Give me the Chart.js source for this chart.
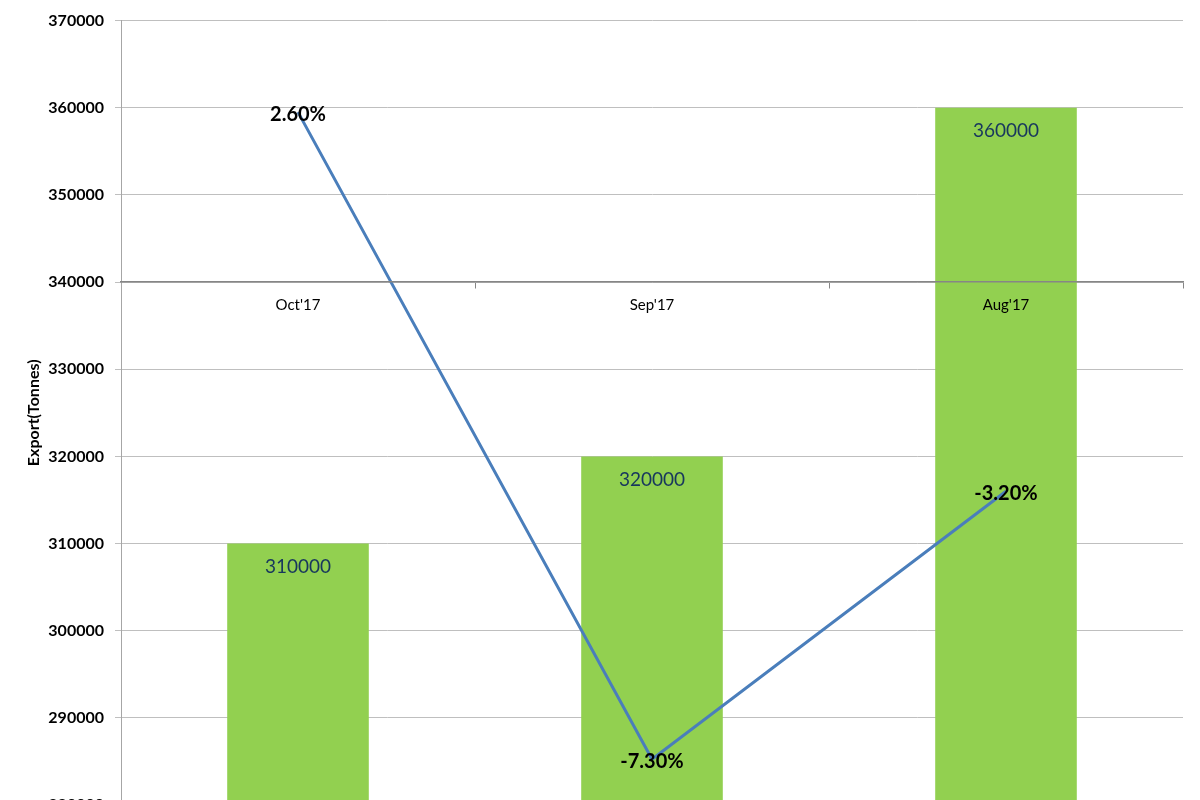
<!DOCTYPE html>
<html>
<head>
<meta charset="utf-8">
<script src="https://cdn.jsdelivr.net/npm/chart.js@4"></script>
<style>
  html, body { margin: 0; padding: 0; overflow: hidden; background: #fff; }
  canvas { display: block; }
</style>
</head>
<body>
<canvas id="exportChart" width="1200" height="830"></canvas>
<script>
const months = ["Oct'17", "Sep'17", "Aug'17"];
const exportData = [310000, 320000, 360000];
const changeData = [2.6, -7.3, -3.2];
const changeLabels = ["2.60%", "-7.30%", "-3.20%"];

// draws the value labels (no datalabels plugin available offline)
const labelPlugin = {
  id: 'valueLabels',
  afterDatasetsDraw(chart) {
    const ctx = chart.ctx;
    ctx.save();
    ctx.textAlign = 'center';
    ctx.textBaseline = 'middle';

    chart.getDatasetMeta(1).data.forEach((bar, i) => {
      ctx.font = '19px Lato';
      ctx.fillStyle = '#17365d';
      ctx.fillText(String(exportData[i]), bar.x, bar.y + 23);
    });

    chart.getDatasetMeta(0).data.forEach((pt, i) => {
      ctx.font = 'bold 20px Lato';
      ctx.fillStyle = '#000';
      ctx.fillText(changeLabels[i], pt.x, pt.y + 2);
    });
    ctx.restore();
  }
};

let ctx = document.getElementById('exportChart').getContext('2d');

let exportChart = new Chart(ctx, {
  data: {
    labels: months,
    datasets: [{
      type: 'line',
      label: 'Change',
      data: changeData,
      yAxisID: 'y2',
      borderColor: '#4a7ebb',
      borderWidth: 3,
      pointRadius: 0,
      tension: 0,
      order: 0,
    }, {
      type: 'bar',
      label: 'Export',
      data: exportData,
      yAxisID: 'y',
      backgroundColor: '#92d050',
      categoryPercentage: 1,
      barPercentage: 0.4,
      order: 1,
    }]
  },
  options: {
    responsive: false,
    animation: false,
    layout: {
      padding: { top: 20, right: 17, bottom: 25, left: 0 }
    },
    plugins: {
      legend: { display: false },
      tooltip: { enabled: false },
    },
    scales: {
      x: {
        position: { y2: 0 },
        grid: {
          display: true,
          drawOnChartArea: false,
          drawTicks: true,
          tickLength: 6,
          offset: true,
          color: '#868686',
        },
        border: { display: true, color: '#868686', width: 1.5, z: 1 },
        ticks: {
          z: 1,
          padding: 8,
          color: '#000',
          font: { family: 'Lato', size: 15 },
        }
      },
      y: {
        position: 'left',
        min: 280000,
        max: 370000,
        afterFit(scale) { scale.width = 121; },
        grid: {
          color: '#bfbfbf',
          tickLength: 6,
        },
        border: { color: '#a6a6a6' },
        ticks: {
          stepSize: 10000,
          padding: 11,
          color: '#000',
          font: { family: 'Lato', size: 16, weight: 'bold' },
          callback: (v) => String(v),
        },
        title: {
          display: true,
          text: 'Export(Tonnes)',
          color: '#000',
          padding: { top: 24, bottom: 0 },
          font: { family: 'Lato', size: 16, weight: 'bold' },
        }
      },
      y2: {
        display: false,
        min: -8,
        max: 4,
      }
    }
  },
  plugins: [labelPlugin]
});
</script>
</body>
</html>
